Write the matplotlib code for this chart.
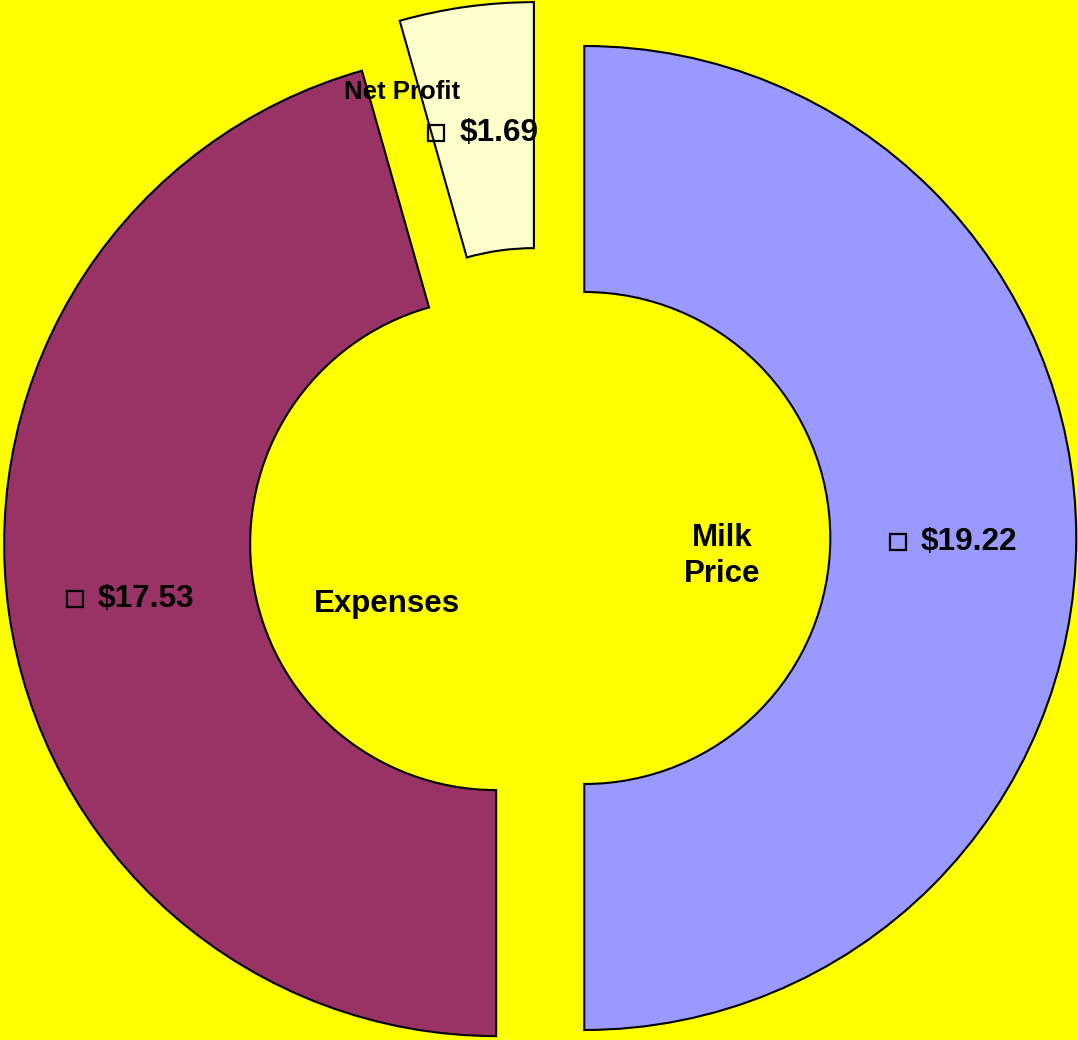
import numpy as np
import matplotlib.pyplot as plt

# data
categories = ['Milk Price', 'Expenses', 'Net Profit']
values = [19.22, 17.53, 1.69]
value_labels = ['$19.22', '$17.53', '$1.69']
colors = ['#9999FF', '#993366', '#FFFFCC']
explode = [0.09, 0.09, 0.09]

plt.rcParams['font.family'] = ['Liberation Sans', 'DejaVu Sans']

fig = plt.figure(figsize=(10.78, 10.40), dpi=100, facecolor='#FFFF00')
ax = fig.add_axes([0, 0, 1, 1])
ax.set_facecolor('#FFFF00')

wedges, _ = ax.pie(values, colors=colors, explode=explode, startangle=90,
                   counterclock=False, radius=1.0,
                   wedgeprops=dict(width=0.5, edgecolor='black', linewidth=1.5))

# axes limits chosen so that the pie center sits at pixel (540, 538), radius 492 px
px = 492.0
ax.set_xlim(-540 / px, (1078 - 540) / px)
ax.set_ylim(-(1040 - 538) / px, 538 / px)
ax.set_aspect('equal')
ax.axis('off')

renderer = fig.canvas.get_renderer()

# value labels with a small hollow legend key, centred on each wedge's mid-angle
total = sum(values)
start = 90.0
key_w = 16 / px    # key width
gap = 23 / px      # key centre to text start
for v, lab, e in zip(values, value_labels, explode):
    span = v / total * 360.0
    mid = np.deg2rad(start - span / 2)
    start -= span
    tx = (e + 0.75) * np.cos(mid)
    ty = (e + 0.75) * np.sin(mid) - 4 / px
    t = ax.text(0, ty, lab, fontsize=22.7, fontweight='bold',
                ha='left', va='center')
    w = t.get_window_extent(renderer).width / px
    group = key_w / 2 + gap + w
    left = tx - group / 2
    t.set_x(left + key_w / 2 + gap)
    ax.plot(left + key_w / 2, ty, marker='s', markersize=12,
            markerfacecolor='none', markeredgecolor='black', markeredgewidth=1.6)

# category labels
ax.text((722 - 540) / px, (538 - 556) / px, 'Milk\nPrice', fontsize=22.5,
        fontweight='bold', ha='center', va='center', linespacing=1.25)
ax.text((387 - 540) / px, (538 - 604) / px, 'Expenses', fontsize=22.5,
        fontweight='bold', ha='center', va='center')
ax.text((402 - 540) / px, (538 - 92) / px, 'Net Profit', fontsize=18.5,
        fontweight='bold', ha='center', va='center')

fig.savefig('out.png', dpi=100, facecolor=fig.get_facecolor())
